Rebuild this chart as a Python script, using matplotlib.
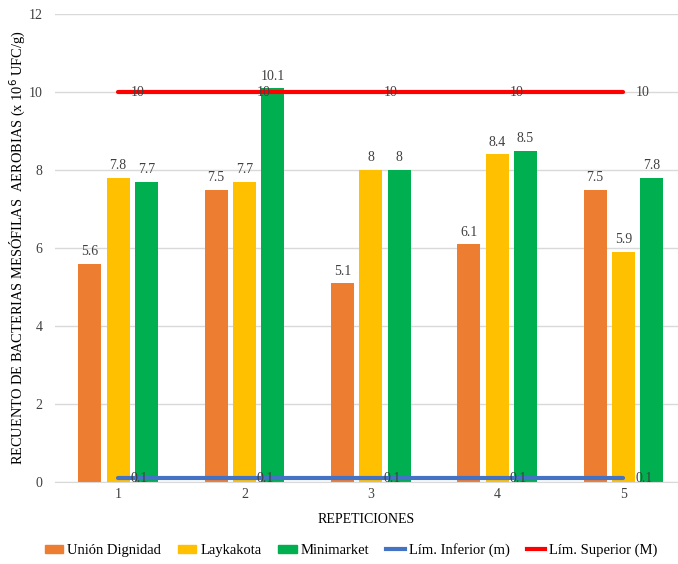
import matplotlib
matplotlib.use("Agg")
import matplotlib.pyplot as plt
from matplotlib.patches import Patch
from matplotlib.lines import Line2D
import numpy as np

plt.rcParams['font.family'] = ['Liberation Serif', 'DejaVu Serif']

categories = ["1", "2", "3", "4", "5"]
union = [5.6, 7.5, 5.1, 6.1, 7.5]
laykakota = [7.8, 7.7, 8.0, 8.4, 5.9]
minimarket = [7.7, 10.1, 8.0, 8.5, 7.8]
lim_inf = [0.1, 0.1, 0.1, 0.1, 0.1]
lim_sup = [10, 10, 10, 10, 10]

series = [("Unión Dignidad", union, "#ED7D31"),
          ("Laykakota", laykakota, "#FFC000"),
          ("Minimarket", minimarket, "#00B050")]

fig = plt.figure(figsize=(6.78, 5.64), dpi=100)
ax = fig.add_axes([55/678, 82/564, 1 - 55/678, 468/564])

x = np.arange(1, len(categories) + 1)
step = 0.224
width = 0.182
for i, (name, vals, col) in enumerate(series):
    pos = x + (i - 1) * step
    ax.bar(pos, vals, width=width, color=col, zorder=2)
    for p, v in zip(pos, vals):
        lbl = f"{v:g}"
        ax.annotate(lbl, (p, v), xytext=(0, 4), textcoords="offset points",
                    ha="center", va="bottom", fontsize=10, color="#404040")

ax.plot(x, lim_inf, color="#4472C4", lw=3, zorder=3, solid_capstyle="round")
ax.plot(x, lim_sup, color="#FF0000", lw=3, zorder=3, solid_capstyle="round")
for xs, vals in ((x, lim_inf), (x, lim_sup)):
    for p, v in zip(xs, vals):
        ax.annotate(f"{v:g}", (p, v), xytext=(9, 0), textcoords="offset points",
                    ha="left", va="center", fontsize=10, color="#404040", zorder=4)

ax.set_xlim(0.5, 0.5 + 623 / 126.3)
ax.set_ylim(0, 12)
ax.set_yticks(range(0, 13, 2))
ax.set_xticks(x)
ax.set_xticklabels(categories)
ax.yaxis.grid(True, color="#D9D9D9", lw=1, zorder=0)
ax.set_axisbelow(True)
for s in ("top", "right", "left"):
    ax.spines[s].set_visible(False)
ax.spines["bottom"].set_color("#D9D9D9")
ax.tick_params(axis="y", length=0, labelsize=10, colors="#404040", pad=9)
ax.tick_params(axis="x", length=0, labelsize=10, colors="#404040", pad=4)

ax.set_xlabel("REPETICIONES", fontsize=10, color="#000000", labelpad=9)
ax.set_ylabel("RECUENTO DE BACTERIAS MESÓFILAS  AEROBIAS (x 10$^{6}$ UFC/g)",
              fontsize=10.4, color="#000000")
ax.yaxis.set_label_coords(-27/623, 0.5)

handles = [Patch(color=c) for _, _, c in series] + [
    Line2D([], [], color="#4472C4", lw=3),
    Line2D([], [], color="#FF0000", lw=3)]
labels = [n for n, _, _ in series] + ["Lím. Inferior (m)", "Lím. Superior (M)"]
fig.legend(handles, labels, loc="center", bbox_to_anchor=(0.518, 1 - 550/564),
           ncol=5, frameon=False, fontsize=10.5, handlelength=1.25, handleheight=0.45,
           columnspacing=1.15, handletextpad=0.3)

fig.savefig("out.png", dpi=100)
